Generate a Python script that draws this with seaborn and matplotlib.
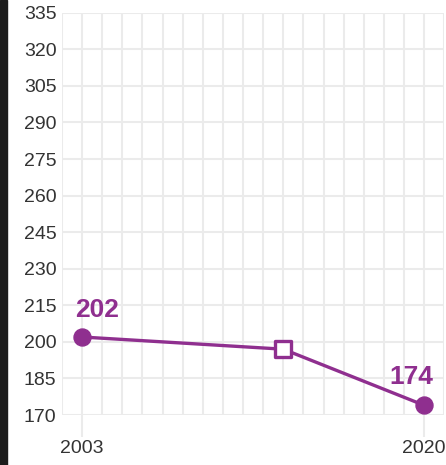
import matplotlib
matplotlib.use("Agg")
import matplotlib.pyplot as plt
import numpy as np
import pandas as pd
import seaborn as sns
from matplotlib.patches import Rectangle

# Chart data
years = [2003, 2013, 2020]
values = [202, 197, 174]
marker_kind = ['circle', 'square', 'circle']
label_years = [2003, 2020]
y_ticks = list(range(170, 336, 15))

purple = '#8f2f8f'
grid_gray = '#ebebeb'

sns.set_theme(style='white')
plt.rcParams['font.family'] = ['Liberation Sans', 'DejaVu Sans']

df = pd.DataFrame({'year': years, 'value': values, 'kind': marker_kind})

fig = plt.figure(figsize=(4.46, 4.65), dpi=100)
ax = fig.add_axes([0.139, 0.1075, 0.857, 0.865])

# dark strip along the left edge
fig.patches.append(Rectangle((0, 0), 7 / 446, 1, transform=fig.transFigure,
                             color='#1c1c1c', zorder=0))

# yearly vertical grid + horizontal grid
for yr in range(2002, 2022):
    ax.axvline(yr, color=grid_gray, lw=1.5, zorder=0)
for v in y_ticks:
    ax.axhline(v, color=grid_gray, lw=1.5, zorder=0)

sns.lineplot(data=df, x='year', y='value', color=purple, lw=2.4, ax=ax, zorder=3)

circles = df[df['kind'] == 'circle']
squares = df[df['kind'] == 'square']
sns.scatterplot(data=circles, x='year', y='value', marker='o', s=150,
                color=purple, edgecolor=purple, ax=ax, zorder=4)
sns.scatterplot(data=squares, x='year', y='value', marker='s', s=120,
                facecolor='white', edgecolor=purple, linewidth=2.4, ax=ax, zorder=4)

# end labels
first, last = df.iloc[0], df.iloc[-1]
ax.annotate(f"{first['value']}", (first['year'], first['value']), xytext=(11, 11),
            textcoords='offset points', ha='center', va='bottom',
            color=purple, fontsize=19, fontweight='bold')
ax.annotate(f"{last['value']}", (last['year'], last['value']), xytext=(-9, 12),
            textcoords='offset points', ha='center', va='bottom',
            color=purple, fontsize=19, fontweight='bold')

ax.set_xlim(2002, 2021)
ax.set_ylim(170, 335)
ax.set_yticks(y_ticks)
ax.set_xticks(label_years)
ax.set_xlabel('')
ax.set_ylabel('')
ax.tick_params(axis='y', length=0, pad=4, labelsize=14, labelcolor='#333333')
ax.tick_params(axis='x', length=16, width=1.5, color=grid_gray, pad=2,
               labelsize=14, labelcolor='#333333', bottom=True)
for s in ax.spines.values():
    s.set_visible(False)

fig.savefig('out.png', dpi=100)
